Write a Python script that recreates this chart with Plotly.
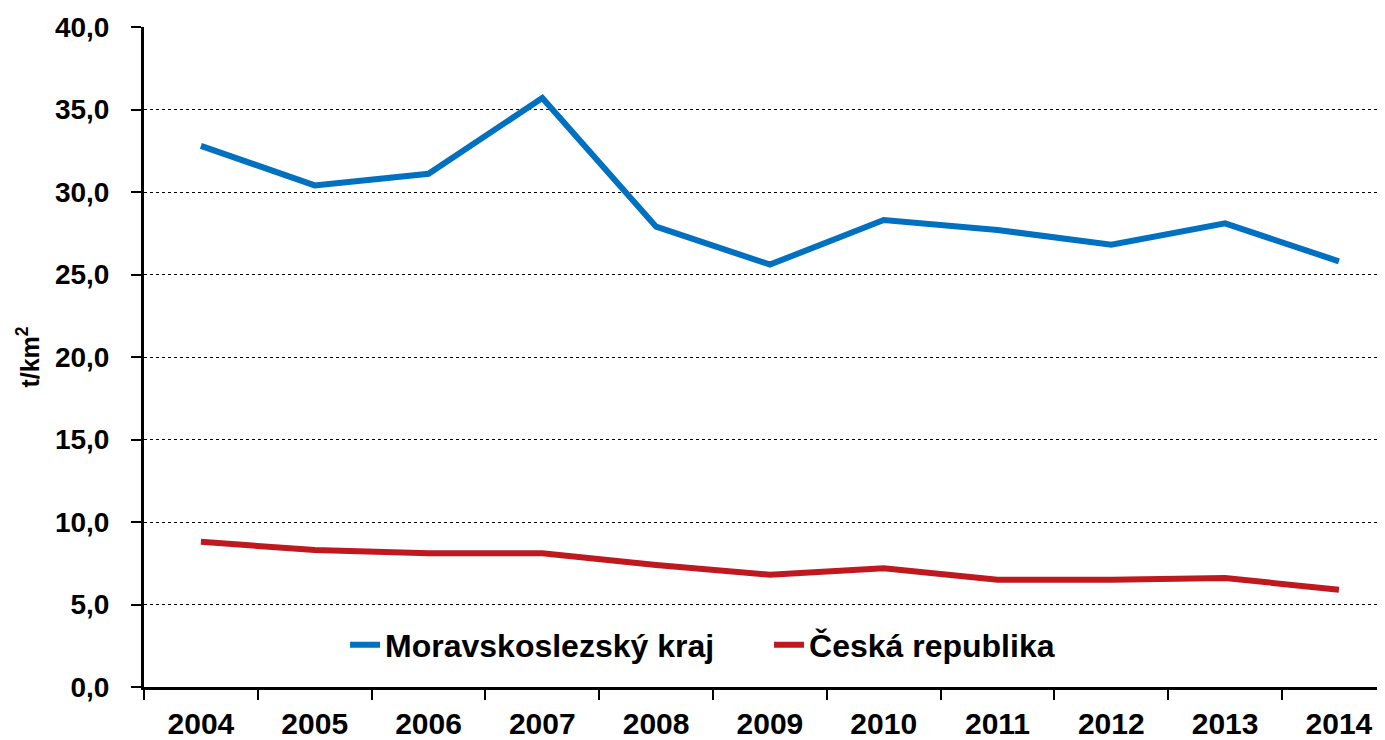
import plotly.graph_objects as go

years = ["2004", "2005", "2006", "2007", "2008", "2009", "2010", "2011", "2012", "2013", "2014"]
msk = [32.8, 30.4, 31.1, 35.7, 27.9, 25.6, 28.3, 27.7, 26.8, 28.1, 25.8]
cr = [8.8, 8.3, 8.1, 8.1, 7.4, 6.8, 7.2, 6.5, 6.5, 6.6, 5.9]
names = ["Moravskoslezský kraj", "Česká republika"]
colors = ["#0070C0", "#C0181F"]

arial = "Liberation Sans, Arial, sans-serif"

fig = go.Figure()
for vals, name, col in zip([msk, cr], names, colors):
    fig.add_trace(go.Scatter(x=years, y=vals, name=name, mode="lines",
                             line=dict(color=col, width=6)))

fig.update_layout(
    width=1385, height=740,
    margin=dict(l=136, r=8, t=19, b=61, autoexpand=False),
    plot_bgcolor="white", paper_bgcolor="white",
    separators=", ",
    showlegend=True,
    legend=dict(orientation="h", x=0.162, y=0.0636, xanchor="left", yanchor="middle",
                font=dict(family=arial, size=32, color="black", weight="bold"),
                bgcolor="rgba(0,0,0,0)", entrywidth=379, tracegroupgap=0),
    xaxis=dict(type="category", range=[-0.5, 10.405],
               showline=True, linecolor="black", linewidth=3,
               ticks="outside", tickson="boundaries", ticklen=10, tickwidth=2, tickcolor="black",
               showgrid=False, automargin=False, ticklabelstandoff=8,
               tickfont=dict(family=arial, size=30, color="black", weight="bold")),
    yaxis=dict(range=[0, 40], dtick=5, tickformat=".1f",
               showline=True, linecolor="black", linewidth=3,
               ticks="outside", ticklen=10, tickwidth=2, tickcolor="black",
               showgrid=True, gridcolor="black", griddash="dot", gridwidth=1,
               zeroline=False, automargin=False, ticklabelstandoff=16,
               tickfont=dict(family=arial, size=28, color="black", weight="bold")),
               
)
fig.update_yaxes(title=dict(text="t/km<sup>2</sup>",
                            font=dict(family=arial, size=25, color="black", weight="bold"),
                            standoff=9))
fig.write_html("out.html")
